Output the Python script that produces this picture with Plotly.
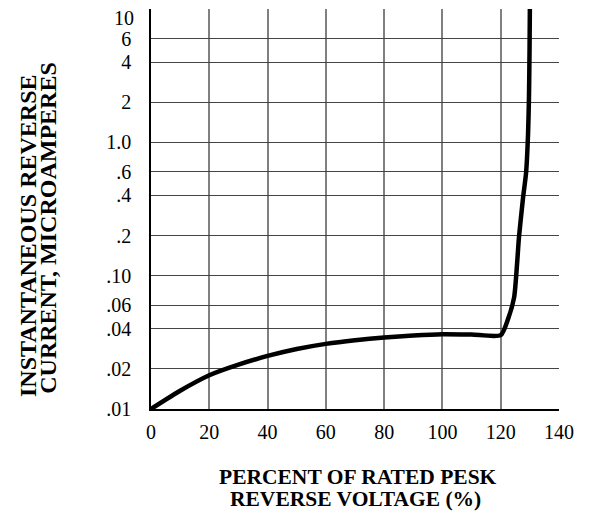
import plotly.graph_objects as go

# Data
voltage_pct = [0, 10, 20, 30, 40, 50, 60, 70, 80, 90, 100, 110, 120,
               122.5, 124.6, 126.3, 127.7, 128.7, 129.4, 129.7, 129.9, 130]
current_ua = [0.010, 0.0137, 0.0179, 0.0215, 0.025, 0.0282, 0.0308, 0.0328, 0.0344, 0.0356, 0.0364, 0.0362, 0.0358,
              0.0472, 0.0687, 0.198, 0.39, 0.59, 1.19, 2.2, 5.16, 10]

y_tickvals = [0.01, 0.02, 0.04, 0.06, 0.10, 0.2, 0.4, 0.6, 1.0, 2, 4, 6, 10]
y_ticktext = [".01", ".02", ".04", ".06", ".10", ".2", ".4", ".6", "1.0", "2", "4", "6", "10"]
x_tickvals = [0, 20, 40, 60, 80, 100, 120, 140]

y_title_lines = ["INSTANTANEOUS REVERSE", "CURRENT, MICROAMPERES"]
x_title_lines = ["PERCENT OF RATED PESK", "REVERSE VOLTAGE (%)"]

serif = "Liberation Serif, Times New Roman, serif"

# the top tick label sits just below its grid line in the reference (it would be clipped otherwise)
top_label = y_ticktext[-1]
axis_ticktext = y_ticktext[:-1] + [""]

fig = go.Figure()
fig.add_trace(go.Scatter(
    x=voltage_pct, y=current_ua, mode="lines",
    line=dict(color="black", width=4.5, shape="spline", smoothing=0.6),
    showlegend=False, hoverinfo="skip",
))

fig.update_layout(
    width=590, height=518,
    margin=dict(l=151, r=31, t=9, b=109),
    paper_bgcolor="white", plot_bgcolor="white",
    font=dict(family=serif, size=20, color="black"),
    xaxis=dict(
        range=[0, 140], tickvals=x_tickvals,
        showgrid=True, gridcolor="#808080", gridwidth=1.5,
        showline=True, linecolor="black", linewidth=1.5,
        ticks="", zeroline=False, automargin=False,
        tickfont=dict(family=serif, size=20, color="black"),
        ticklabelstandoff=4, ticklabeloverflow="allow",
    ),
    yaxis=dict(
        type="log", range=[-2, 1],
        tickvals=y_tickvals, ticktext=axis_ticktext,
        showgrid=True, gridcolor="#444444", gridwidth=1.2,
        showline=True, linecolor="black", linewidth=1.5,
        ticks="", zeroline=False, automargin=False,
        tickfont=dict(family=serif, size=20, color="black"),
        ticklabelstandoff=14, ticklabeloverflow="allow",
    ),
    annotations=[
        dict(text=top_label, xref="paper", yref="y", x=0, y=1,
             xanchor="right", yanchor="top", xshift=-15, yshift=4,
             showarrow=False, font=dict(family=serif, size=20, color="black")),
        dict(text="<b>%s</b>" % y_title_lines[0],
             xref="paper", yref="paper", x=-0.3015, y=0.435,
             xanchor="center", yanchor="middle", textangle=-90,
             showarrow=False, font=dict(family=serif, size=24, color="black")),
        dict(text="<b>%s</b>" % y_title_lines[1],
             xref="paper", yref="paper", x=-0.253, y=0.4525,
             xanchor="center", yanchor="middle", textangle=-90,
             showarrow=False, font=dict(family=serif, size=24, color="black")),
        dict(text="<b>%s</b>" % x_title_lines[0],
             xref="paper", yref="paper", x=0.507, y=-0.1705,
             xanchor="center", yanchor="middle",
             showarrow=False, font=dict(family=serif, size=21.5, color="black")),
        dict(text="<b>%s</b>" % x_title_lines[1],
             xref="paper", yref="paper", x=0.502, y=-0.2255,
             xanchor="center", yanchor="middle",
             showarrow=False, font=dict(family=serif, size=21.5, color="black")),
    ],
)

fig.write_html("out.html", config={"displayModeBar": False},
               post_script="document.body.style.margin='0px';")
